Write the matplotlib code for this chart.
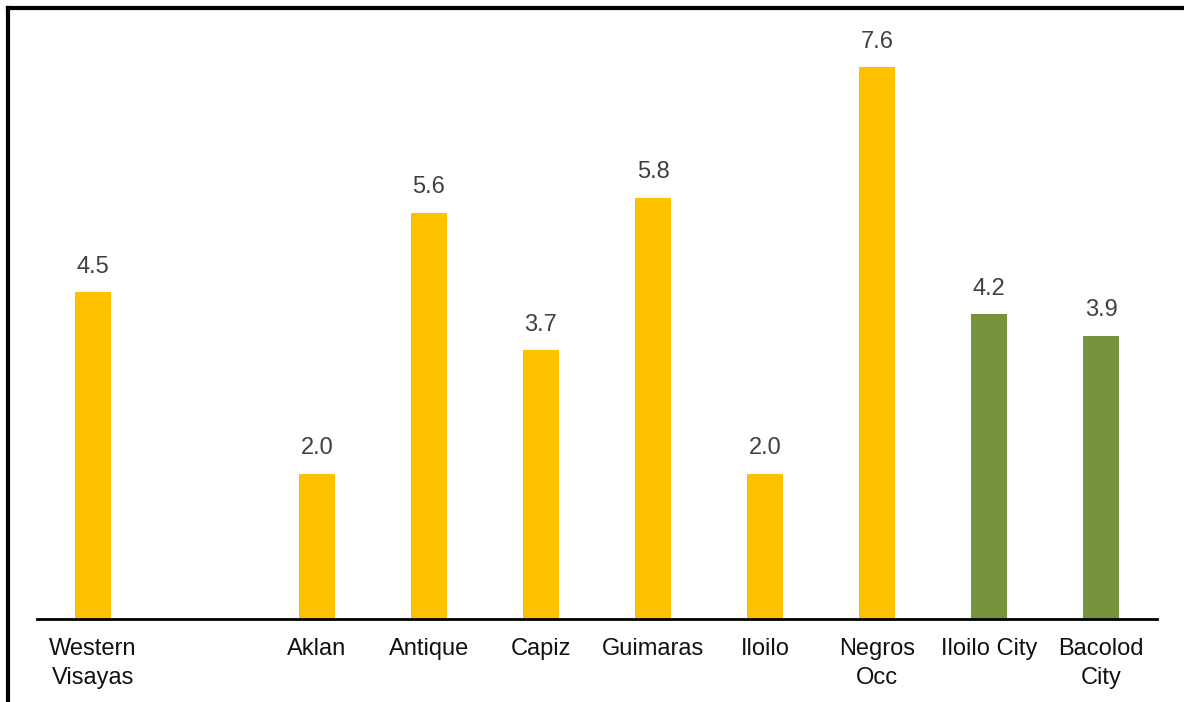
import matplotlib.pyplot as plt
from matplotlib.lines import Line2D

categories = ['Western\nVisayas', '', 'Aklan', 'Antique', 'Capiz', 'Guimaras',
              'Iloilo', 'Negros\nOcc', 'Iloilo City', 'Bacolod\nCity']
values = [4.5, None, 2.0, 5.6, 3.7, 5.8, 2.0, 7.6, 4.2, 3.9]
colors = ['#FFC000'] * 8 + ['#77933C'] * 2

plt.rcParams['font.family'] = ['Liberation Sans', 'DejaVu Sans']

fig = plt.figure(figsize=(11.84, 7.02), dpi=100)
ax = fig.add_axes([37 / 1184, 83 / 702, 1120 / 1184, 609 / 702])

x = list(range(len(categories)))
for xi, v, c in zip(x, values, colors):
    if v is None:
        continue
    ax.bar(xi, v, width=0.32, color=c)
    ax.text(xi, v + 0.2, f'{v:.1f}', ha='center', va='bottom',
            fontsize=17, color='#404040')

ax.set_xlim(-0.5, len(categories) - 0.5)
ax.set_ylim(0, 8.39)
ax.set_xticks(x)
ax.set_xticklabels(categories, fontsize=17, color='#111111', linespacing=1.4)
ax.tick_params(axis='x', length=0, pad=14)
ax.set_yticks([])
for s in ['top', 'right', 'left']:
    ax.spines[s].set_visible(False)
ax.spines['bottom'].set_linewidth(2)

# outer frame (top and left edges)
fig.add_artist(Line2D([8 / 1184, 1], [1 - 8 / 702, 1 - 8 / 702], color='black', lw=3,
                      transform=fig.transFigure))
fig.add_artist(Line2D([8 / 1184, 8 / 1184], [0, 1 - 8 / 702], color='black', lw=3,
                      transform=fig.transFigure))

fig.savefig('out.png', dpi=100)
